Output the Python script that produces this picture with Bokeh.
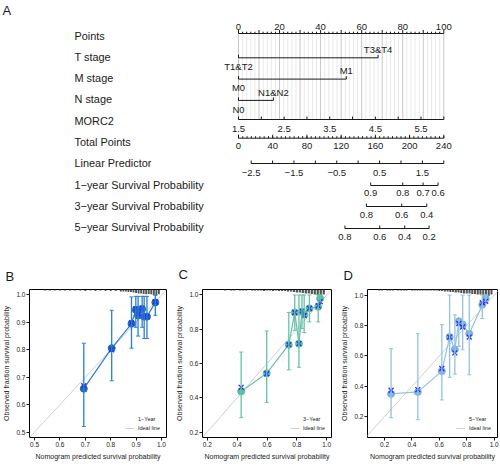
import numpy as np
from bokeh.plotting import figure
from bokeh.layouts import column, row
from bokeh.models import (Range1d, Label, Legend, LegendItem, Whisker, TeeHead,
                          ColumnDataSource, FixedTicker, Title, NumeralTickFormatter)
from bokeh.core.properties import value
from bokeh.embed import file_html
from bokeh.resources import INLINE

FONT = "Liberation Sans"
INK = "#1a1a1a"

# ---------------- Nomogram (panel A) data ----------------
row_names = ["Points", "T stage", "M stage", "N stage", "MORC2", "Total Points",
             "Linear Predictor", "1\u2212year Survival Probability",
             "3\u2212year Survival Probability", "5\u2212year Survival Probability"]
points_labels = [0, 20, 40, 60, 80, 100]
t_levels = ["T1&T2", "T3&T4"]
t_points = [0, 68]
m_levels = ["M0", "M1"]
m_points = [0, 52.5]
n_levels = ["N0", "N1&N2"]
n_points = [0, 17]
morc2_ticks = [1.5, 2.0, 2.5, 3.0, 3.5, 4.0, 4.5, 5.0, 5.5, 6.0]
morc2_labels = [1.5, 2.5, 3.5, 4.5, 5.5]
morc2_span = [1.5, 6.0]            # MORC2 values scoring 0 and 100 points
total_labels = [0, 40, 80, 120, 160, 200, 240]
total_max = 240
lp_ticks = [-2.5, -2.0, -1.5, -1.0, -0.5, 0.0, 0.5, 1.0, 1.5, 2.0]
lp_labels = [-2.5, -1.5, -0.5, 0.5, 1.5]
lp_span = [-2.5, 2.0]
lp_total_span = [14.8, 240.0]      # total points at the two ends of lp_span
surv1_labels = ["0.9", "0.8", "0.7", "0.6"]
surv1_total = [154.5, 192.0, 215.8, 233.3]
surv3_labels = ["0.8", "0.6", "0.4"]
surv3_total = [149.5, 190.8, 220.1]
surv5_labels = ["0.8", "0.6", "0.4", "0.2"]
surv5_total = [124.4, 165.1, 194.3, 222.8]

# ---------------- Calibration data (panels B, C, D) ----------------
b_pred = [0.694, 0.804, 0.882, 0.899, 0.908, 0.924, 0.932, 0.943, 0.976]
b_obs = [0.658, 0.806, 0.895, 0.946, 0.925, 0.949, 0.921, 0.921, 0.973]
b_lo = [0.520, 0.687, 0.806, 0.882, 0.850, 0.882, 0.841, 0.841, 0.926]
b_hi = [0.824, 0.944, 0.993, 0.995, 0.995, 0.995, 0.995, 0.995, 1.000]
b_bc = [0.669, 0.800, 0.898, 0.950, 0.930, 0.952, 0.922, 0.921, 0.975]
b_rug_x = [0.54, 0.56, 0.58, 0.60, 0.62, 0.64, 0.66, 0.68, 0.70, 0.72, 0.74, 0.76,
           0.78, 0.80, 0.82, 0.84, 0.85, 0.86, 0.87, 0.88, 0.89, 0.90, 0.91, 0.92,
           0.93, 0.94, 0.95, 0.96, 0.97, 0.98, 0.99]
b_rug_h = [1, 1, 1, 1, 1, 1, 1, 1, 1.5, 1, 1.5, 1, 1.5, 1.5, 1.5, 2, 2, 2, 2.5,
           2.5, 3, 3.5, 4, 4, 4.5, 5, 4.5, 5, 6, 6.5, 5]

c_pred = [0.427, 0.598, 0.746, 0.786, 0.814, 0.834, 0.849, 0.884, 0.943, 0.956]
c_obs = [0.437, 0.543, 0.710, 0.898, 0.716, 0.902, 0.886, 0.922, 0.931, 0.980]
c_lo = [0.284, 0.373, 0.563, 0.794, 0.578, 0.804, 0.780, 0.843, 0.843, 0.960]
c_hi = [0.667, 0.790, 0.898, 1.000, 1.000, 1.000, 1.000, 1.000, 1.000, 1.000]
c_bc = [0.461, 0.540, 0.710, 0.898, 0.716, 0.906, 0.880, 0.922, 0.937, 0.961]
c_rug_x = [0.32, 0.34, 0.36, 0.38, 0.40, 0.42, 0.44, 0.46, 0.48, 0.50, 0.52, 0.54,
           0.56, 0.58, 0.60, 0.62, 0.64, 0.66, 0.68, 0.70, 0.72, 0.74, 0.76, 0.78,
           0.80, 0.82, 0.84, 0.86, 0.88, 0.90, 0.92, 0.94, 0.96, 0.98]
c_rug_h = [1, 0, 1, 1, 0, 1, 1, 1, 0, 1, 1, 1, 1, 1.5, 1, 1, 1.5, 1, 1.5, 1.5,
           1.5, 2, 2, 2.5, 3, 3, 3.5, 4, 4, 4.5, 5, 5.5, 6.5, 5]

d_pred = [0.248, 0.443, 0.618, 0.675, 0.713, 0.742, 0.770, 0.818, 0.913, 0.938]
d_obs = [0.350, 0.363, 0.500, 0.724, 0.643, 0.828, 0.806, 0.746, 0.937, 0.980]
d_lo = [0.193, 0.180, 0.310, 0.459, 0.480, 0.663, 0.640, 0.476, 0.846, 0.960]
d_hi = [0.648, 0.746, 0.806, 1.000, 0.870, 0.837, 1.000, 1.000, 1.000, 1.000]
d_bc = [0.374, 0.378, 0.517, 0.724, 0.620, 0.813, 0.790, 0.724, 0.950, 0.959]
d_rug_x = [0.16, 0.18, 0.20, 0.22, 0.24, 0.26, 0.28, 0.30, 0.32, 0.34, 0.36, 0.38,
           0.40, 0.42, 0.44, 0.46, 0.48, 0.50, 0.52, 0.54, 0.56, 0.58, 0.60, 0.62,
           0.64, 0.66, 0.68, 0.70, 0.72, 0.74, 0.76, 0.78, 0.80, 0.82, 0.84, 0.86,
           0.88, 0.90, 0.92, 0.94, 0.96, 0.98]
d_rug_h = [1, 1, 0, 1, 1, 1, 0, 1, 1, 1, 1, 0, 1, 1, 1, 1, 1, 1, 1, 1, 1, 1,
           1.5, 1.5, 2, 2, 2.5, 2.5, 3, 3, 3.5, 4, 4, 4, 4.5, 4.5, 5, 5, 5.5, 6, 6.5, 5]
ideal_line = [0.0, 1.1]


def fmt(v):
    s = f"{v:g}" if not isinstance(v, str) else v
    return s.replace("-", "\u2212")


# ---------------- Panel A: nomogram ----------------
WA, HA = 500, 248
PXPT = 2.053     # pixels per point
X0 = 238.0       # canvas x of 0 points
ROW = 21.3       # pixels per row
Y0 = 35.0        # canvas y of first row
pA = figure(width=WA, height=HA, output_backend="svg", toolbar_location=None,
            x_range=Range1d(-X0 / PXPT, (WA - X0) / PXPT),
            y_range=Range1d((HA - Y0) / ROW, -Y0 / ROW),
            x_axis_location=None, y_axis_location=None, min_border=0)
pA.grid.visible = False
pA.outline_line_color = None


def ry(r, dpx):
    return r + dpx / ROW


def tp2pt(tp):
    return [t * 100.0 / total_max for t in tp]


def hline(x0, x1, y):
    pA.segment(x0=[x0], y0=[y], x1=[x1], y1=[y], line_color=INK, line_width=1)


def ticks(xs, y, length, color=INK):
    xs = list(xs)
    pA.segment(x0=xs, y0=[y] * len(xs), x1=xs, y1=[y - length / ROW] * len(xs),
               line_color=color, line_width=1)


def texts(xs, y, labels, size="9.5px", align="center"):
    xs = list(xs)
    pA.text(x=xs, y=[y] * len(xs), text=[fmt(l) for l in labels],
            text_font=value(FONT), text_font_size=size, text_align=align,
            text_baseline="middle", text_color=INK)


# vertical guide lines
y_top = ry(0, -2)
y_bot = ry(4, -1.2)
minor_g = [v for v in range(0, 101, 2) if v % 10]
major_g = list(range(0, 101, 10))
pA.segment(x0=minor_g, y0=[y_top] * len(minor_g), x1=minor_g, y1=[y_bot] * len(minor_g),
           line_color="#e9e9e9", line_width=1)
pA.segment(x0=major_g, y0=[y_top] * len(major_g), x1=major_g, y1=[y_bot] * len(major_g),
           line_color="#c6c6c6", line_width=1)

# row labels
LABEL_X = (74 - X0) / PXPT
pA.text(x=[LABEL_X] * len(row_names), y=list(range(len(row_names))), text=row_names,
        text_font=value(FONT), text_font_size="10.9px", text_align="left",
        text_baseline="middle", text_color=INK)

# Points axis
yp = y_top
hline(0, 100, yp)
ticks(minor_g, yp, 1.8)
ticks(major_g, yp, 3.5)
texts(points_labels, ry(0, -8.5), points_labels)

# categorical rows
for r, lv, pts in [(1, t_levels, t_points), (2, m_levels, m_points), (3, n_levels, n_points)]:
    yl = ry(r, 1)
    hline(pts[0], pts[1], yl)
    ticks(pts, yl, 3)
    texts([pts[0]], ry(r, 1 + 8.8), [lv[0]])
    texts([pts[1]], ry(r, 1 - 8.3), [lv[1]])

# MORC2
ym = y_bot
mx = [(v - morc2_span[0]) / (morc2_span[1] - morc2_span[0]) * 100 for v in morc2_ticks]
hline(mx[0], mx[-1], ym)
ticks(mx, ym, 3)
texts([(v - morc2_span[0]) / (morc2_span[1] - morc2_span[0]) * 100 for v in morc2_labels],
      ym + 9 / ROW, morc2_labels)

# Total points
yt = ry(5, -3.8)
hline(0, 100, yt)
ticks(tp2pt(range(0, total_max + 1, 5)), yt, 2)
ticks(tp2pt(total_labels), yt, 3.5)
texts(tp2pt(total_labels), yt + 7.5 / ROW, total_labels)


def lp2tp(v):
    return lp_total_span[0] + (v - lp_span[0]) / (lp_span[1] - lp_span[0]) * (lp_total_span[1] - lp_total_span[0])


# Linear predictor
yl = ry(6, 0.2)
lx = tp2pt([lp2tp(v) for v in lp_ticks])
hline(lx[0], lx[-1], yl)
ticks(lx, yl, 3)
texts(tp2pt([lp2tp(v) for v in lp_labels]), yl + 9 / ROW, lp_labels)

# survival rows
for r, labs, tot, dy, ly in [(7, surv1_labels, surv1_total, 0.9, 7.5),
                             (8, surv3_labels, surv3_total, 0.6, 8),
                             (9, surv5_labels, surv5_total, 1.3, 8)]:
    ys = ry(r, dy)
    sx = tp2pt(tot)
    hline(sx[0], sx[-1], ys)
    ticks(sx, ys, 3)
    texts(sx, ys + ly / ROW, labs)

pA.add_layout(Label(x=2, y=HA - 2, x_units="screen", y_units="screen", text="A",
                    text_font=FONT, text_font_size="13px", text_baseline="top",
                    text_color=INK))


# ---------------- Calibration panels ----------------
def calib(letter, leg_label, width, lb, rb, tb, bb, xr, yr, xt, yt_, pred, obs, lo, hi, bc,
          line_color, dot_color, rug_x, rug_h, rug_step):
    H = 217
    p = figure(width=width, height=H, output_backend="svg", toolbar_location=None,
               x_range=Range1d(*xr), y_range=Range1d(*yr),
               min_border_left=lb, min_border_right=rb, min_border_top=tb,
               min_border_bottom=bb)
    p.title = Title(text=letter, align="left", text_font=FONT, text_font_size="13px",
                    text_font_style="normal", text_color=INK, standoff=tb - 26,
                    offset=-lb + 2)
    p.grid.visible = False
    p.outline_line_color = "black"
    p.outline_line_width = 1
    for ax, ticks_, lab in [(p.xaxis, xt, "Nomogram predicted survival probability"),
                            (p.yaxis, yt_, "Observed fraction survival probability")]:
        ax.ticker = FixedTicker(ticks=ticks_)
        ax.formatter = NumeralTickFormatter(format="0.0")
        ax.axis_line_color = None
        ax.minor_tick_line_color = None
        ax.major_tick_in = 0
        ax.major_tick_out = 3
        ax.major_tick_line_color = INK
        ax.major_label_standoff = 1
        ax.major_label_text_font = FONT
        ax.major_label_text_font_size = "6.5px"
        ax.major_label_text_color = INK
        ax.axis_label = lab
        ax.axis_label_text_font = FONT
        ax.axis_label_text_font_size = "7px"
        ax.axis_label_text_font_style = "normal"
        ax.axis_label_text_color = INK
        ax.axis_label_standoff = 3

    frame_h = H - tb - bb
    k = (yr[1] - yr[0]) / frame_h
    p.vbar(x=rug_x, top=[yr[1]] * len(rug_x), bottom=[yr[1] - h * k for h in rug_h],
           width=rug_step * 0.75, fill_color="#555555", line_color=None)

    ideal = p.line(ideal_line, ideal_line, line_color="#cfcfcf", line_width=1)
    src = ColumnDataSource(dict(x=pred, y=obs, lo=lo, hi=hi, bc=bc))
    p.add_layout(Whisker(source=src, base="x", upper="hi", lower="lo", dimension="height",
                         line_color=line_color, line_width=1.3, level="glyph",
                         upper_head=TeeHead(size=4, line_color=line_color, line_width=1),
                         lower_head=TeeHead(size=4, line_color=line_color, line_width=1)))
    p.line("x", "y", source=src, line_color=line_color, line_width=1.2)
    p.scatter("x", "y", source=src, size=7, fill_color=dot_color, line_color=dot_color)
    p.scatter("x", "bc", source=src, marker="x", size=7, line_color="#2a2aff", line_width=1.3)

    leg_r = p.line([], [], line_color=line_color, line_width=2.5)
    leg = Legend(items=[LegendItem(label=leg_label, renderers=[leg_r]),
                        LegendItem(label="Ideal line", renderers=[ideal])],
                 location="bottom_right", label_text_font=FONT, label_text_font_size="5.5px",
                 label_text_color=INK, glyph_width=9, glyph_height=6, label_height=6,
                 label_standoff=4, spacing=3, padding=2, margin=4,
                 background_fill_alpha=0, border_line_alpha=0)
    p.add_layout(leg)
    return p


pB = calib("B", "1\u2212Year", 173, 26, 7, 38, 27, (0.48, 1.02), (0.48, 1.02),
           [0.5, 0.6, 0.7, 0.8, 0.9, 1.0], [0.5, 0.6, 0.7, 0.8, 0.9, 1.0],
           b_pred, b_obs, b_lo, b_hi, b_bc, "#2b7fcf", "#1f6db3", b_rug_x, b_rug_h, 0.01)
pC = calib("C", "3\u2212Year", 165, 26, 7, 41, 28, (0.168, 1.032), (0.168, 1.032),
           [0.2, 0.4, 0.6, 0.8, 1.0], [0.2, 0.4, 0.6, 0.8, 1.0],
           c_pred, c_obs, c_lo, c_hi, c_bc, "#66c2a5", "#5bbf9b", c_rug_x, c_rug_h, 0.02)
pD = calib("D", "5\u2212Year", 162, 26, 3, 40, 27, (0.076, 1.024), (0.063, 1.037),
           [0.2, 0.4, 0.6, 0.8, 1.0], [0.2, 0.4, 0.6, 0.8, 1.0],
           d_pred, d_obs, d_lo, d_hi, d_bc, "#92c2e2", "#7db3da", d_rug_x, d_rug_h, 0.02)

layout = column(pA, row(pB, pC, pD, spacing=0), spacing=0)
open("out.html", "w").write(file_html(layout, INLINE))
